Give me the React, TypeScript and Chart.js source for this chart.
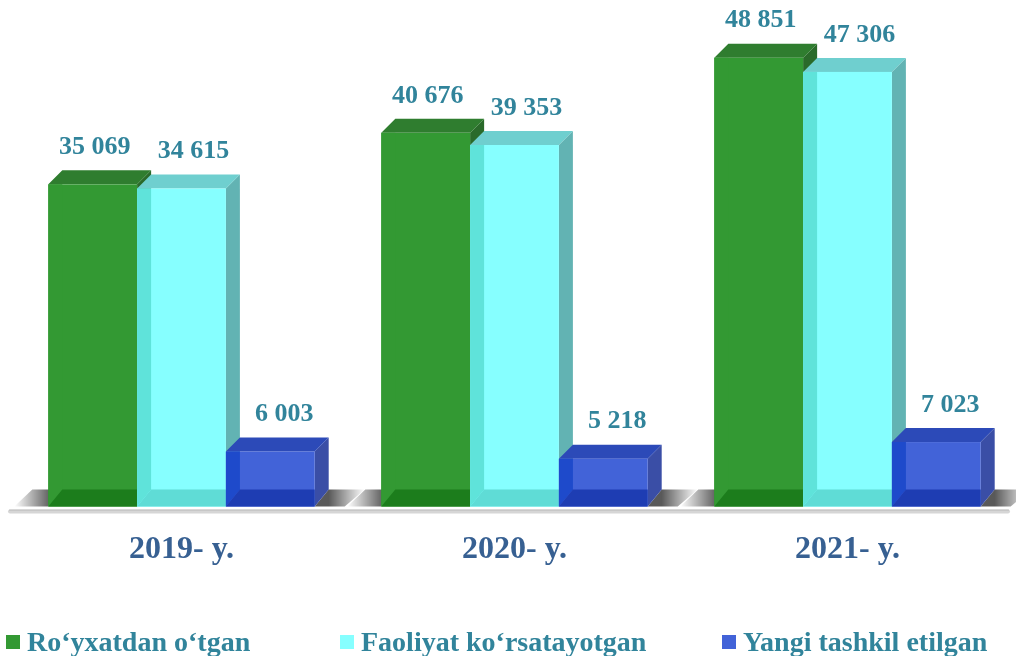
import { useEffect, useRef } from 'react';
import { Chart, registerables } from 'chart.js';

Chart.register(...registerables);

const categories = ['2019- y.', '2020- y.', '2021- y.'];
const seriesNames = ['Ro‘yxatdan o‘tgan', 'Faoliyat ko‘rsatayotgan', 'Yangi tashkil etilgan'];
const registeredValues = [35069, 40676, 48851];
const activeValues = [34615, 39353, 47306];
const newValues = [6003, 5218, 7023];

const DX = 14;
const DY = 14;
const SERIF = '"Liberation Serif", "Times New Roman", serif';
const LABEL_COLOR = '#31849b';

const faces = [
  { front: '#339933', left: '#339933', bottom: '#1c7d1c', top: '#2f7d2f', side: '#2a6a2a' },
  { front: '#86ffff', left: '#5fe3da', bottom: '#5fdcd6', top: '#6fcfcf', side: '#62b3b3' },
  { front: '#4263d8', left: '#1e4acb', bottom: '#1e3db3', top: '#2c4ab8', side: '#3a4ea6' },
];
const labelOffsets = [2, 12, 14];
const legendX = [6, 340, 722];

const fmt = (v: number) => String(v).replace(/\B(?=(\d{3})+(?!\d))/g, ' ');

function poly(ctx: CanvasRenderingContext2D, pts: number[][], color: string | CanvasGradient) {
  ctx.beginPath();
  ctx.moveTo(pts[0][0], pts[0][1]);
  for (let i = 1; i < pts.length; i++) ctx.lineTo(pts[i][0], pts[i][1]);
  ctx.closePath();
  ctx.fillStyle = color;
  ctx.fill();
}

const box3d = {
  id: 'box3d',
  beforeDatasetDraw() {
    return false;
  },
  afterDatasetsDraw(chart: any) {
    const ctx: CanvasRenderingContext2D = chart.ctx;
    const metas = chart.data.datasets.map((_: any, i: number) => chart.getDatasetMeta(i));
    const n = chart.data.labels.length;
    ctx.save();
    // floor line
    const area = chart.chartArea;
    const floorY = area.bottom + 3;
    ctx.fillStyle = '#d6d6d6';
    ctx.beginPath();
    ctx.roundRect(8, floorY, 1002, 4, 2);
    ctx.fill();
    ctx.fillStyle = '#bdbdbd';
    ctx.fillRect(9, floorY, 1000, 1);

    // floor shadows
    for (let i = 0; i < n; i++) {
      const first = metas[0].data[i];
      const last = metas[metas.length - 1].data[i];
      const x0 = first.x - first.width / 2;
      const x1 = last.x + last.width / 2;
      const b = first.base;
      const gl = ctx.createLinearGradient(x0 - 34, 0, x0, 0);
      gl.addColorStop(0, 'rgba(0,0,0,0)');
      gl.addColorStop(1, 'rgba(0,0,0,0.6)');
      poly(ctx, [[x0 - 34, b], [x0, b], [x0 + DX, b - DY - 3], [x0 - 16, b - DY - 3]], gl);
      const gr = ctx.createLinearGradient(x1 + DX, 0, x1 + DX + 36, 0);
      gr.addColorStop(0, 'rgba(0,0,0,0.65)');
      gr.addColorStop(1, 'rgba(0,0,0,0)');
      poly(ctx, [[x1, b], [x1 + DX, b - DY - 3], [x1 + DX + 36, b - DY - 3], [x1 + 30, b]], gr);
    }

    // boxes
    for (let i = 0; i < n; i++) {
      metas.forEach((meta: any, d: number) => {
        const el = meta.data[i];
        const f = faces[d];
        const x0 = el.x - el.width / 2;
        const x1 = el.x + el.width / 2;
        const top = el.y;
        const bottom = el.base;
        poly(ctx, [[x1, top], [x1 + DX, top - DY], [x1 + DX, bottom - DY - 3], [x1, bottom]], f.side);
        poly(ctx, [[x0, top], [x0 + DX, top - DY], [x1 + DX, top - DY], [x1, top]], f.top);
        ctx.fillStyle = f.front;
        ctx.fillRect(x0, top, x1 - x0, bottom - top);
        poly(ctx, [[x0, top], [x0 + DX, top], [x0 + DX, bottom - DY - 3], [x0, bottom]], f.left);
        poly(ctx, [[x0, bottom], [x0 + DX, bottom - DY - 3], [x1, bottom - DY - 3], [x1, bottom]], f.bottom);
      });
    }

    // value labels
    ctx.font = `bold 26px ${SERIF}`;
    ctx.fillStyle = LABEL_COLOR;
    ctx.textAlign = 'center';
    ctx.textBaseline = 'middle';
    metas.forEach((meta: any, d: number) => {
      meta.data.forEach((el: any, i: number) => {
        const v = chart.data.datasets[d].data[i];
        ctx.fillText(fmt(v), el.x + labelOffsets[d], el.y - DY - 23);
      });
    });

    // legend
    ctx.textAlign = 'left';
    ctx.textBaseline = 'alphabetic';
    ctx.font = `bold 28px ${SERIF}`;
    chart.data.datasets.forEach((ds: any, d: number) => {
      ctx.fillStyle = faces[d].front;
      ctx.fillRect(legendX[d], 635, 14, 14);
      ctx.fillStyle = LABEL_COLOR;
      ctx.fillText(ds.label, legendX[d] + 21, 651);
    });
    ctx.restore();
  },
};

export default function App() {
  const ref = useRef<HTMLCanvasElement>(null);
  useEffect(() => {
    if (!ref.current) return;
    const chart = new Chart(ref.current, {
      type: 'bar',
      data: {
        labels: categories,
        datasets: [
          { label: seriesNames[0], data: registeredValues, backgroundColor: faces[0].front },
          { label: seriesNames[1], data: activeValues, backgroundColor: faces[1].front },
          { label: seriesNames[2], data: newValues, backgroundColor: faces[2].front },
        ],
      },
      options: {
        responsive: false,
        animation: false,
        layout: { padding: { top: 15, left: 15, right: 2, bottom: 63 } },
        datasets: { bar: { categoryPercentage: 0.8, barPercentage: 1.0 } },
        plugins: { legend: { display: false }, tooltip: { enabled: false } },
        scales: {
          x: {
            grid: { display: false, drawTicks: false },
            border: { display: false },
            ticks: {
              padding: 24,
              color: '#376092',
              font: { family: SERIF, size: 32, weight: 'bold' },
              maxRotation: 0,
            },
          },
          y: { display: false, min: 0, max: 53500 },
        },
      },
      plugins: [box3d],
    } as any);
    return () => chart.destroy();
  }, []);
  return (
    <div style={{ position: 'absolute', left: 0, top: 0, width: 1016, height: 656, background: '#fff' }}>
      <canvas ref={ref} width={1016} height={656} />
    </div>
  );
}
